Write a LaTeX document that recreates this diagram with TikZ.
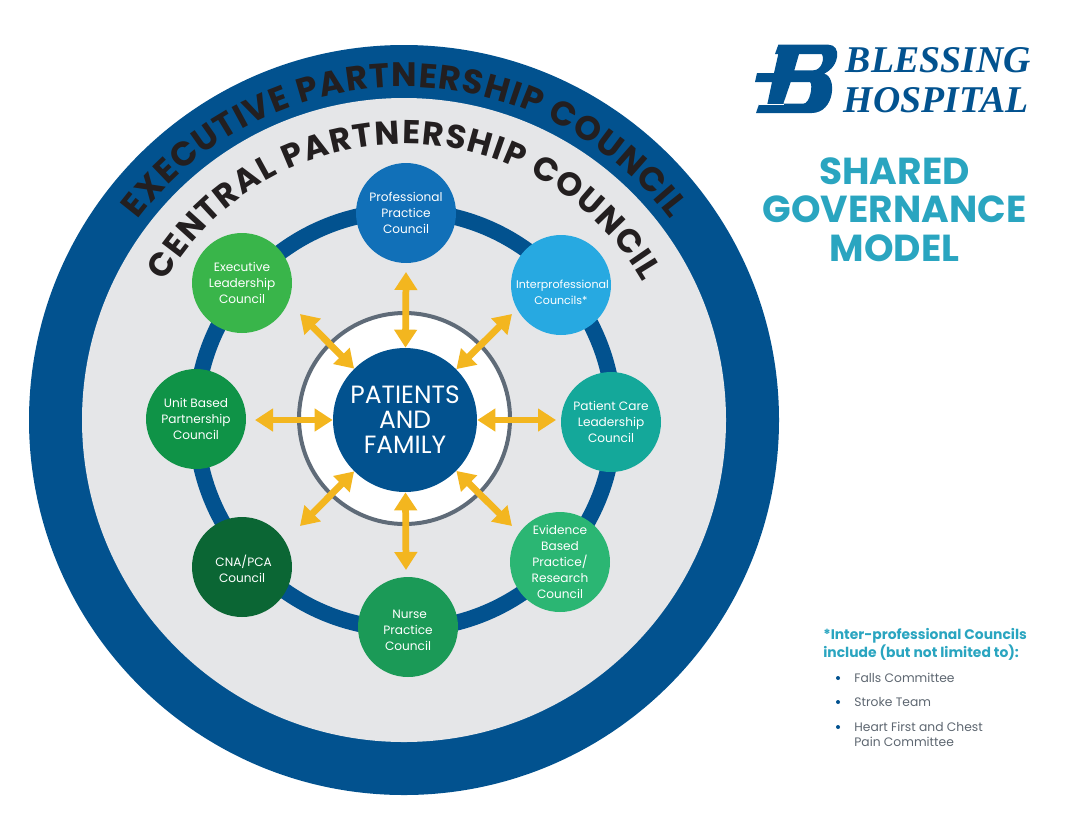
\documentclass[tikz,border=0pt]{standalone}
\usepackage{fontspec}
\setmainfont{Poppins}
\usetikzlibrary{arrows.meta,decorations.text}
\definecolor{ringblue}{HTML}{02528F}
\definecolor{panelgrey}{HTML}{E5E6E8}
\definecolor{hubline}{HTML}{5F6B78}
\definecolor{arrowgold}{HTML}{F3B61F}
\definecolor{titleteal}{HTML}{2AA5C0}
\definecolor{notegrey}{HTML}{5D6670}
\definecolor{inkblack}{HTML}{231F20}
\newcommand{\topgap}[1][5.6pt]{\rule{0pt}{#1}}
\tikzset{
  council/.style={circle,minimum size=2cm,inner sep=-.5cm,text=white,align=center,font=\fontsize{6.9}{9.1}\selectfont},
  twoway/.style={arrowgold,line width=.135cm,{Triangle[length=.36cm,width=.44cm]}-{Triangle[length=.36cm,width=.44cm]}},
  archtext/.style={decorate,decoration={text along path,text align=fit to path,text={#1}}},
  notetext/.style={anchor=west,inner sep=0pt,text=notegrey,align=left,font=\fontsize{7}{8.7}\selectfont},
  notedot/.style={circle,fill=ringblue,minimum size=.08cm,inner sep=0pt},
  logotext/.style={anchor=base west,inner sep=0pt,text=ringblue,font=\fontsize{21.5}{21.5}\selectfont\fontspec{Liberation Serif}\bfseries\itshape}
}
\begin{document}
\begin{tikzpicture}[x=.02cm,y=-.02cm]
\useasboundingbox (0,0) rectangle (1077,819);

\fill [ringblue]   (404,420) circle (375);
\fill [panelgrey]  (404,420) circle (322);
\draw [ringblue,line width=.32cm] (405,420) circle (209);
\draw [hubline,fill=white,line width=.08cm] (404.5,418.5) circle (105.5);

\path [archtext={|\fontsize{19.3}{19.3}\selectfont\bfseries\color{inkblack}|EXECUTIVE PARTNERSHIP COUNCIL}]
  (404,420) ++(217:333) arc [start angle=217,end angle=323,radius=333];
\path [archtext={|\fontsize{18.8}{18.8}\selectfont\bfseries\color{inkblack}|CENTRAL PARTNERSHIP COUNCIL}]
  (404,420) ++(210:276) arc [start angle=210,end angle=330,radius=276];

\node [council,fill={rgb,255:red,17;green,112;blue,184}]  (professional) at (406,213) {\topgap Professional\\Practice\\Council};
\node [council,font=\fontsize{6.3}{8.8}\selectfont,fill={rgb,255:red,39;green,169;blue,225}] (interprof) at (561,285) {\topgap[13pt] Interprofessional\\Councils*};
\node [council,fill={rgb,255:red,20;green,168;blue,154}]  (patientcare)  at (611,422) {\topgap Patient Care\\Leadership\\Council};
\node [council,fill={rgb,255:red,43;green,182;blue,115}]  (evidence)     at (560,562) {\topgap Evidence\\Based\\Practice/\\Research\\Council};
\node [council,fill={rgb,255:red,27;green,154;blue,87}]   (nurse)        at (408,627) {\topgap[8.2pt] Nurse\\Practice\\Council};
\node [council,fill={rgb,255:red,11;green,102;blue,52}]   (cnapca)       at (242,567) {\topgap[8.2pt] CNA/PCA\\Council};
\node [council,fill={rgb,255:red,15;green,147;blue,71}]   (unitbased)    at (196,419) {\topgap Unit Based\\Partnership\\Council};
\node [council,fill={rgb,255:red,57;green,181;blue,74}]   (executive)    at (242,283) {\topgap Executive\\Leadership\\Council};

\node [circle,fill=ringblue,minimum size=2.88cm,inner sep=-.5cm,text=white,align=center,font=\fontsize{14.2}{14.2}\selectfont] (patients) at (405,420) {PATIENTS\\AND\\FAMILY};

\coordinate (armN)  at (406,272);
\coordinate (armNE) at (512,314);
\coordinate (armE)  at (556,420);
\coordinate (armSE) at (512,526);
\coordinate (armS)  at (406,570);
\coordinate (armSW) at (300,526);
\coordinate (armW)  at (255,420);
\coordinate (armNW) at (300,314);

\draw [twoway] (armN)  -- (patients);
\draw [twoway] (armNE) -- (patients);
\draw [twoway] (armE)  -- (patients);
\draw [twoway] (armSE) -- (patients);
\draw [twoway] (armS)  -- (patients);
\draw [twoway] (armSW) -- (patients);
\draw [twoway] (armW)  -- (patients);
\draw [twoway] (armNW) -- (patients);

\fill [ringblue,even odd rule]
  (778.3,44.7) -- (828.3,44.7) .. controls (841.7,44.7) and (840,66.3) .. (824,73.7)
  .. controls (837.3,76.3) and (835,113) .. (811.7,113) -- (756,113) -- (759,104.3) -- (767.3,104.3)
  -- (772,82) -- (755,82) -- (757,73) -- (774,73) -- (778.3,54) -- (775,54) -- cycle
  (799,54) -- (821.7,54) .. controls (825,58) and (821.7,70.3) .. (813.3,70.3) -- (794.3,70.3) -- cycle
  (790.7,82) -- (810,82) .. controls (813.3,84.7) and (810,103.7) .. (803.3,103.7) -- (783.3,103.7) -- cycle;
\draw [white,line width=.012cm] (759,104.3) -- (784,104.3);
\node [logotext] (blessing) at (845.5,72) {BLESSING};
\node [logotext] (hospital) at (843.5,112) {HOSPITAL};

\node [text=titleteal,align=center,inner sep=0pt,font=\fontsize{21.4}{21.9}\selectfont\bfseries] (title) at (894.5,209.5) {SHARED\\GOVERNANCE\\MODEL};

\node [anchor=west,inner sep=0pt,text=titleteal,align=left,font=\fontsize{7.9}{9}\selectfont\bfseries] (notehead) at (823,644) {*Inter-professional Councils\\include (but not limited to):};

\node [notedot] (dotfalls)  at (838,678) {};
\node [notedot] (dotstroke) at (838,702) {};
\node [notedot] (dotheart)  at (838,727) {};
\node [notetext] (falls)  at (854,678) {Falls Committee};
\node [notetext] (stroke) at (854,702) {Stroke Team};
\node [notetext] (heart)  at (854,734.5) {Heart First and Chest\\Pain Committee};
\end{tikzpicture}
\end{document}
